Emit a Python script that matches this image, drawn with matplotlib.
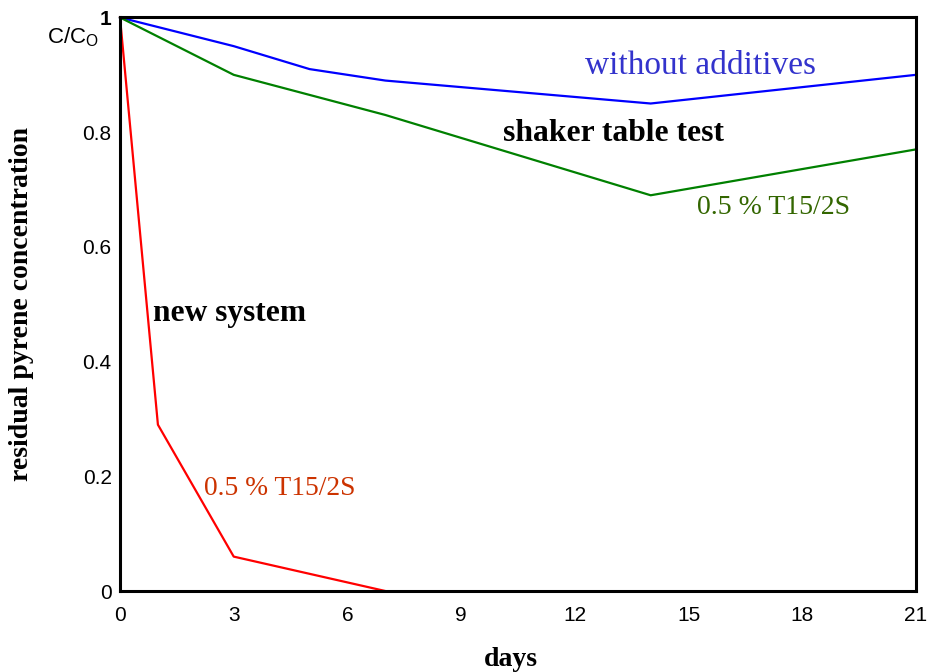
from matplotlib import pyplot as plt

plt.rcParams['mathtext.default'] = 'regular'

# days after start
days_blue = [0, 3, 5, 7, 14, 21]
conc_blue = [1.0, 0.95, 0.91, 0.89, 0.85, 0.90]

days_green = [0, 3, 7, 14, 21]
conc_green = [1.0, 0.90, 0.83, 0.69, 0.77]

days_red = [0, 1, 3, 5, 7]
conc_red = [1.0, 0.29, 0.06, 0.03, 0.0]

xticks = [0, 3, 6, 9, 12, 15, 18, 21]
yticks = [0, 0.2, 0.4, 0.6, 0.8, 1.0]
ylabels = ['0', '0.2', '0.4', '0.6', '0.8', '1']

fig = plt.figure(figsize=(9.31, 6.72), dpi=100)
ax = fig.add_axes([0.1289, 0.1205, 0.855, 0.8535])

ax.plot(days_blue, conc_blue, color='#0000ff', lw=1.6, clip_on=False)
ax.plot(days_green, conc_green, color='#008000', lw=1.6, clip_on=False)
ax.plot(days_red, conc_red, color='#ff0000', lw=1.6, clip_on=False)

ax.set_xlim(0, 21)
ax.set_ylim(0, 1)
for s in ax.spines.values():
    s.set_linewidth(2.2)

tickfont = dict(family='Liberation Sans', size=15)
ax.set_xticks(xticks)
ax.set_xticklabels([str(t) for t in xticks], **tickfont)
ax.set_yticks(yticks)
ax.set_yticklabels(ylabels, **tickfont)
ax.get_yticklabels()[-1].set_fontweight('bold')
ax.tick_params(axis='x', length=0, pad=11)
ax.tick_params(axis='y', length=0, pad=6)

labfont = dict(family='Liberation Serif', size=20, weight='bold')
fig.text(511/931, 1 - 660/672, 'days', ha='center', va='center', **labfont)
fig.text(22/931, 1 - 304/672, 'residual pyrene concentration', rotation=90,
         ha='center', va='center', **labfont)

ax.text(-1.93, 0.965, 'C/C$_O$', family='Liberation Sans', size=16,
        ha='left', va='center', clip_on=False)

ax.text(12.27, 0.915, 'without additives', color='#3333cc',
        family='Liberation Serif', size=24, ha='left', va='center')
ax.text(10.1, 0.798, 'shaker table test', color='black',
        family='Liberation Serif', size=22.8, weight='bold', ha='left', va='center')
ax.text(15.22, 0.668, '0.5 % T15/2S', color='#336600',
        family='Liberation Serif', size=20, ha='left', va='center')
ax.text(0.87, 0.483, 'new system', color='black',
        family='Liberation Serif', size=22.6, weight='bold', ha='left', va='center')
ax.text(2.22, 0.179, '0.5 % T15/2S', color='#cc3300',
        family='Liberation Serif', size=19.8, ha='left', va='center')

plt.savefig('out.png', dpi=100)
